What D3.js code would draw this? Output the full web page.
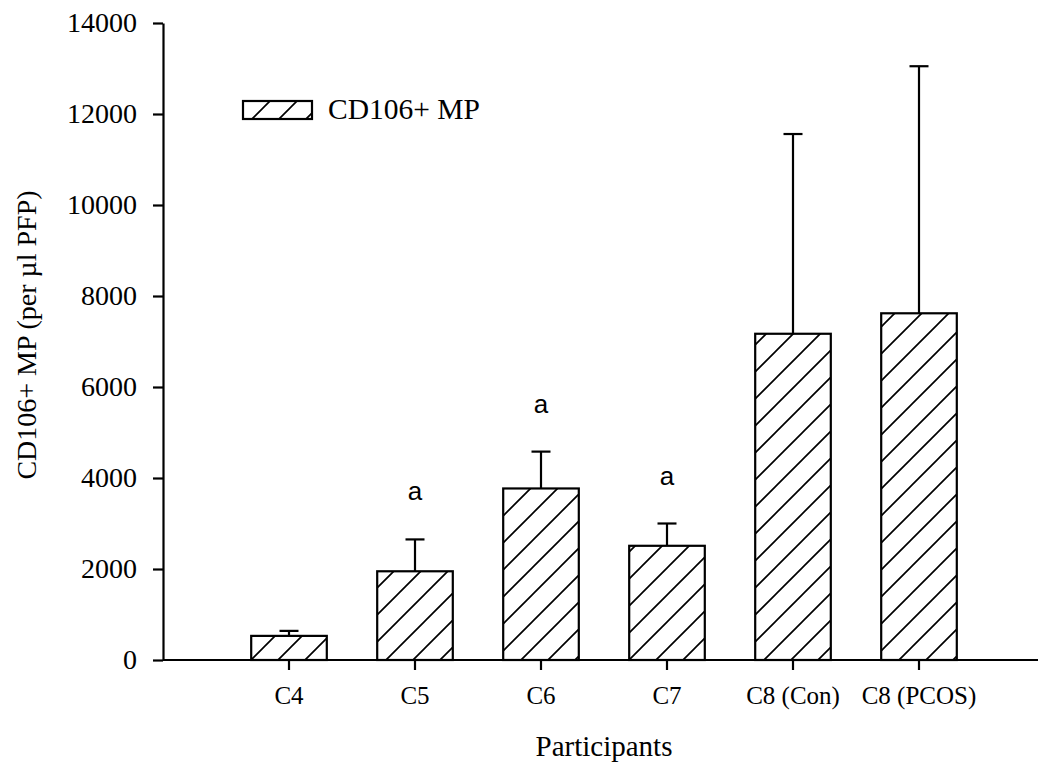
<!DOCTYPE html>
<html>
<head>
<meta charset="utf-8">
<script src="https://cdn.jsdelivr.net/npm/d3@7"></script>
<style>
  html, body { margin: 0; padding: 0; background: #fff; }
  svg { display: block; }
</style>
</head>
<body>
<svg id="chart" width="1038" height="764"></svg>
<script>
// ---- data ----
const categories = ["C4", "C5", "C6", "C7", "C8 (Con)", "C8 (PCOS)"];
const means      = [530, 1950, 3770, 2510, 7170, 7620];
const errors     = [110, 700, 810, 490, 4390, 5430];
const sigLabels  = ["", "a", "a", "a", "", ""];
const yTicks     = [0, 2000, 4000, 6000, 8000, 10000, 12000, 14000];
const seriesName = "CD106+ MP";
const yTitle     = "CD106+ MP (per µl PFP)";
const xTitle     = "Participants";

const data = categories.map((c, i) => ({ cat: c, mean: means[i], err: errors[i], sig: sigLabels[i] }));

const svg = d3.select("#chart");
const serif = "'Liberation Serif', 'Times New Roman', serif";
const sans = "'Liberation Sans', Arial, sans-serif";

const x0 = 163, axisRight = 1045;
const x = d3.scaleBand().domain(categories).range([226, 982]).paddingInner(0.4).paddingOuter(0.2);
const y = d3.scaleLinear().domain([0, 14000]).range([660, 23]);

// hatch pattern
const defs = svg.append("defs");
const pat = defs.append("pattern")
  .attr("id", "hatch").attr("patternUnits", "userSpaceOnUse")
  .attr("x", 20).attr("y", 0)
  .attr("width", 27).attr("height", 27);
pat.append("path")
  .attr("d", "M0,27 L27,0 M-6.75,6.75 L6.75,-6.75 M20.25,33.75 L33.75,20.25")
  .attr("stroke", "#000").attr("stroke-width", 1.7);

// bars
svg.append("g").selectAll("rect").data(data).join("rect")
  .attr("x", d => x(d.cat))
  .attr("y", d => y(d.mean))
  .attr("width", x.bandwidth())
  .attr("height", d => y(0) - y(d.mean))
  .attr("fill", "url(#hatch)")
  .attr("stroke", "#000").attr("stroke-width", 2.2);

// error bars (upper only)
const eg = svg.append("g").attr("stroke", "#000").attr("stroke-width", 2.2);
data.forEach(d => {
  const cx = x(d.cat) + x.bandwidth() / 2;
  eg.append("line").attr("x1", cx).attr("x2", cx).attr("y1", y(d.mean)).attr("y2", y(d.mean + d.err));
  eg.append("line").attr("x1", cx - 9.5).attr("x2", cx + 9.5).attr("y1", y(d.mean + d.err)).attr("y2", y(d.mean + d.err));
});

// significance letters
svg.append("g").selectAll("text").data(data.filter(d => d.sig)).join("text")
  .attr("x", d => x(d.cat) + x.bandwidth() / 2)
  .attr("y", d => y(d.mean + d.err) - 39)
  .attr("text-anchor", "middle")
  .attr("font-family", sans).attr("font-size", 26)
  .text(d => d.sig);

// y axis
const yAxis = svg.append("g").attr("transform", `translate(${x0},0)`)
  .call(d3.axisLeft(y).tickValues(yTicks).tickFormat(d3.format("d")).tickSize(10).tickSizeOuter(0).tickPadding(16));
yAxis.select(".domain").attr("stroke-width", 2.2);
yAxis.selectAll(".tick line").attr("stroke-width", 2.2);
yAxis.selectAll("text").attr("font-family", serif).attr("font-size", 28).attr("fill", "#000");

// x axis
const xAxis = svg.append("g").attr("transform", `translate(0,${y(0)})`)
  .call(d3.axisBottom(x).tickSize(10).tickSizeOuter(0).tickPadding(16));
xAxis.select(".domain").remove();
xAxis.selectAll(".tick line").attr("stroke-width", 2.2);
xAxis.selectAll("text").attr("font-family", serif).attr("font-size", 25).attr("fill", "#000");
svg.append("line").attr("x1", x0).attr("x2", axisRight).attr("y1", y(0)).attr("y2", y(0))
  .attr("stroke", "#000").attr("stroke-width", 2.2);

// axis titles
svg.append("text")
  .attr("transform", `translate(36,335) rotate(-90)`)
  .attr("text-anchor", "middle")
  .attr("font-family", serif).attr("font-size", 28)
  .text(yTitle);
svg.append("text")
  .attr("x", 604).attr("y", 756)
  .attr("text-anchor", "middle")
  .attr("font-family", serif).attr("font-size", 29)
  .text(xTitle);

// legend
svg.append("rect").attr("x", 243).attr("y", 101).attr("width", 69).attr("height", 18)
  .attr("fill", "url(#hatch)").attr("stroke", "#000").attr("stroke-width", 2.2);
svg.append("text").attr("x", 328).attr("y", 119)
  .attr("font-family", serif).attr("font-size", 29.5)
  .text(seriesName);
</script>
</body>
</html>
